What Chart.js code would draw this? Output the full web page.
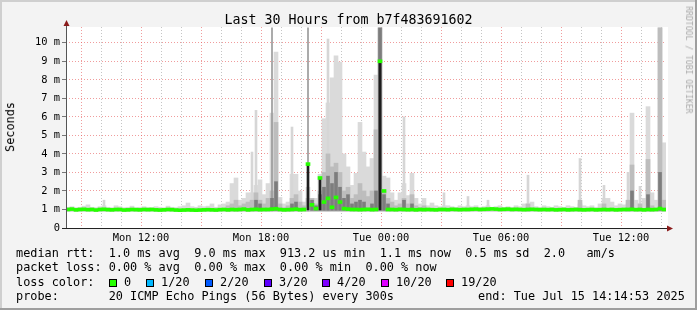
<!DOCTYPE html>
<html>
<head>
<meta charset="utf-8">
<script src="https://cdn.jsdelivr.net/npm/chart.js@4"></script>
<style>
  html, body { margin: 0; padding: 0; background: #f3f3f3; }
  #wrap { position: relative; width: 697px; height: 310px; overflow: hidden; }
  #c { position: absolute; left: 0; top: 0; }
  .t { position: absolute; font-family: "DejaVu Sans Mono", monospace; white-space: pre; line-height: 1; color: #000; }
  .box { position: absolute; width: 8px; height: 8px; box-sizing: border-box; border: 1px solid #000; }
</style>
</head>
<body>
<div id="wrap">
  <canvas id="c" width="697" height="310"></canvas>
  <div class="t" style="left:0;width:697px;text-align:center;top:13px;font-size:13.3px">Last 30 Hours from b7f483691602</div>
  <div class="t" style="left:11px;top:127px;font-size:11.85px;transform:translate(-50%,-50%) rotate(-90deg)">Seconds</div>
  <div class="t" style="left:689px;top:60px;font-size:8.1px;color:#a9a9a9;transform:translate(-50%,-50%) rotate(90deg)">RRDTOOL / TOBI OETIKER</div>
  <div id="legend"></div>
</div>
<script>
// 30 hours, Mon 08:15 -> Tue 14:15, one bin every 12 minutes
const BIN = 0.2;
const SMOKE_FLOOR = 0.88;

const xLabelPos = [3.75, 9.75, 15.75, 21.75, 27.75];
const xLabels = ["Mon 12:00", "Mon 18:00", "Tue 00:00", "Tue 06:00", "Tue 12:00"];

// upper edge of the light smoke (ms)
const smokeLight = [
  1.12,1.15,1.1,1.12,1.18,1.25,1.12,1.1,1.15,1.2,
  1.12,1.1,1.2,1.15,1.1,1.12,1.18,1.1,1.12,1.15,
  1.12,1.1,1.15,1.12,1.1,1.18,1.12,1.1,1.15,1.2,
  1.35,1.15,1.12,1.2,1.15,1.18,1.3,1.12,1.25,1.3,
  1.4,2.4,2.7,1.5,1.6,1.9,1.9,2.3,2.6,1.8,
  2.4,6.2,9.5,1.65,1.3,1.4,2.9,2.9,2.0,1.4,
  2.2,1.6,1.6,2.9,5.9,6.75,8.1,9.3,8.95,4.0,
  3.3,2.3,2.95,5.7,4.1,3.3,3.75,8.25,10.8,2.8,
  2.7,1.9,1.5,1.9,2.4,1.75,2.95,1.6,1.3,1.6,
  1.2,1.35,1.2,1.15,1.2,1.2,1.15,1.12,1.2,1.15,
  1.2,1.15,1.2,1.12,1.15,1.2,1.12,1.15,1.2,1.12,
  1.15,1.12,1.2,1.15,1.3,1.3,1.4,1.15,1.12,1.2,
  1.15,1.12,1.2,1.15,1.12,1.2,1.15,1.12,1.3,1.2,
  1.15,1.2,1.12,1.3,1.6,1.6,1.4,1.2,1.3,1.25,
  1.3,6.2,1.5,1.3,1.6,6.55,1.9,1.5,10.8,4.6
];

// medium grey smoke
const smokeMid = [
  null,null,null,null,null,null,null,null,null,null,
  null,null,null,null,null,null,null,null,null,null,
  null,null,null,null,null,null,null,null,null,null,
  null,null,null,null,null,null,null,null,null,null,
  1.2,1.3,1.5,1.2,1.3,1.4,1.5,1.9,1.5,1.3,
  1.6,2.0,5.7,1.3,1.1,1.2,1.6,1.8,1.4,1.2,
  1.6,1.6,1.3,2.0,3.0,4.0,3.3,3.5,3.0,2.0,
  2.2,1.6,1.8,2.4,2.0,1.7,2.0,5.3,10.8,2.0,
  1.6,1.4,1.2,1.3,1.6,1.3,1.8,1.2,1.1,1.2,
  null,null,null,null,null,null,null,null,null,null,
  null,null,null,null,null,null,null,null,null,null,
  null,null,null,null,null,1.3,null,null,null,null,
  null,null,null,null,null,null,null,null,1.5,null,
  null,null,null,null,1.3,null,null,null,null,null,
  1.5,3.4,null,1.3,null,3.7,1.2,null,10.8,1.5
];

// dark grey smoke (bin index / top)
const darkIdx = [47,48,51,52,56,57,61,62,63,64,65,66,67,68,69,70,71,72,73,74,76,77,78,79,80,84,86,141,145,148];
const darkTop = [1.5,1.3,1.6,2.5,1.3,1.4,1.5,1.2,1.8,2.2,2.8,2.4,3.0,2.2,1.6,1.8,1.3,1.4,1.5,1.4,1.3,2.0,10.8,1.8,1.3,1.5,1.3,2.0,1.8,3.0];

// black core under high medians
const coreIdx = [60,63,78];
const coreTop = [3.45,2.7,9.0];

// single-ping outliers (thin)
const peakIdx = [9,46,47,56,65,84,94,100,105,115,128,134,140,143];
const peakTop = [1.5,4.1,6.35,5.45,10.2,6.0,1.9,1.7,1.5,2.85,3.75,2.3,3.0,2.25];
const peakDarkIdx = [51,60];
const peakDarkTop = [10.8,10.8];

// median rtt, 0 loss
const median = [
  1.0,1.02,0.98,1.0,1.01,0.99,1.0,0.97,1.0,1.01,
  0.99,0.98,1.0,1.0,0.97,0.98,1.0,0.99,0.98,1.0,
  0.99,1.0,0.98,0.97,0.98,1.0,0.99,0.97,0.96,0.97,
  0.98,0.97,0.96,0.97,0.98,0.99,0.98,0.97,0.99,1.0,
  0.98,1.0,0.99,1.0,1.02,0.98,1.0,1.01,0.99,1.0,
  1.0,1.02,1.04,1.0,0.98,0.99,1.0,1.02,0.99,1.0,
  3.45,1.25,1.05,2.7,1.4,1.6,1.12,1.65,1.4,1.05,
  1.02,1.0,1.0,0.99,1.0,1.01,0.99,1.0,9.0,2.0,
  1.0,1.0,0.99,1.01,1.0,0.99,1.0,0.98,1.0,0.99,
  1.0,0.99,0.98,1.0,1.0,0.99,1.01,1.0,0.99,1.0,
  1.0,1.01,1.02,1.0,1.01,1.02,1.03,1.02,1.0,1.01,
  1.02,1.0,1.01,1.0,0.99,1.0,1.01,1.0,0.99,1.0,
  0.99,1.0,0.98,0.99,1.0,0.98,0.99,1.0,0.99,0.98,
  0.99,1.0,0.98,0.99,1.0,0.99,1.0,0.98,0.99,1.0,
  1.0,1.01,0.99,1.0,0.98,1.0,0.99,1.0,1.05,1.0
];

const lossLabels = ["0", "1/20", "2/20", "3/20", "4/20", "10/20", "19/20"];
const lossColors = ["#26ff00", "#00b8ff", "#0059ff", "#5e00ff", "#7e00ff", "#dd00ff", "#ff0000"];

/* ================= legend ================= */

const legend = document.getElementById("legend");
function addText(txt, x, y, size){
  const d = document.createElement("div");
  d.className = "t";
  d.style.left = x + "px";
  d.style.top = y + "px";
  d.style.fontSize = (size || 11.85) + "px";
  d.textContent = txt;
  legend.appendChild(d);
}
addText("median rtt:  1.0 ms avg  9.0 ms max  913.2 us min  1.1 ms now  0.5 ms sd  2.0   am/s", 16, 248);
addText("packet loss: 0.00 % avg  0.00 % max  0.00 % min  0.00 % now", 16, 262);
addText("loss color:", 16, 276.5);
addText("probe:       20 ICMP Echo Pings (56 Bytes) every 300s", 16, 291);
addText("end: Tue Jul 15 14:14:53 2025", 478, 291);

const boxX = [109, 146, 205, 264, 322, 381, 446];
lossLabels.forEach((l, i)=>{
  const b = document.createElement("div");
  b.className = "box";
  b.style.left = boxX[i] + "px";
  b.style.top = "279px";
  b.style.background = lossColors[i];
  legend.appendChild(b);
  addText(l, boxX[i] + 15, 276.5);
});

/* ================= chart ================= */

const binTime = i => i * BIN + BIN / 2;

function bars(values, lo){
  const out = [];
  values.forEach((v, i)=>{ if(v != null) out.push({x: binTime(i), y: [lo, v]}); });
  return out;
}
function sparse(idx, values, lo){
  return idx.map((b, k)=>({x: binTime(b), y: [lo, values[k]]}));
}

const hourTicks = [];
for(let h = 0.75; h < 30; h += 1) hourTicks.push(h);

const RED_GRID = "rgba(230,90,90,0.6)";
const GREY_GRID = "rgba(150,150,150,0.55)";
const NONE = "rgba(0,0,0,0)";

const frame = {
  id: "frame",
  beforeDraw(chart){
    const c = chart.ctx, a = chart.chartArea;
    c.save();
    c.fillStyle = "#f3f3f3";
    c.fillRect(0, 0, 697, 310);
    c.fillStyle = "#cfcfcf";
    c.fillRect(0, 0, 697, 2);
    c.fillRect(0, 0, 2, 310);
    c.fillStyle = "#9e9e9e";
    c.fillRect(0, 308, 697, 2);
    c.fillRect(695, 0, 2, 310);
    c.fillStyle = "#ffffff";
    c.fillRect(a.left, a.top, a.right - a.left + 2, a.bottom - a.top);
    c.restore();
  },
  afterDraw(chart){
    const c = chart.ctx, a = chart.chartArea;
    c.save();
    c.lineWidth = 1;
    c.strokeStyle = "#555";
    c.beginPath();
    c.moveTo(a.left + 0.5, a.bottom);
    c.lineTo(a.left + 0.5, a.top - 1);
    c.stroke();
    c.strokeStyle = "#222";
    c.beginPath();
    c.moveTo(a.left - 4, a.bottom + 0.5);
    c.lineTo(a.right + 2, a.bottom + 0.5);
    c.stroke();
    c.fillStyle = "#8b1c1c";
    c.beginPath();
    c.moveTo(a.left + 0.5, a.top - 7);
    c.lineTo(a.left - 2.5, a.top - 1);
    c.lineTo(a.left + 3.5, a.top - 1);
    c.closePath();
    c.fill();
    c.beginPath();
    c.moveTo(a.right + 7, a.bottom + 0.5);
    c.lineTo(a.right + 1, a.bottom - 2.5);
    c.lineTo(a.right + 1, a.bottom + 3.5);
    c.closePath();
    c.fill();
    c.restore();
  }
};

const axisFont = {family: "DejaVu Sans Mono", size: 10.4};

new Chart(document.getElementById("c"), {
  type: "bar",
  data: {
    datasets: [
      {data: bars(smokeLight, SMOKE_FLOOR), backgroundColor: "#dadada", barThickness: 4, order: 8},
      {data: sparse(peakIdx, peakTop, SMOKE_FLOOR), backgroundColor: "#d6d6d6", barThickness: 2, order: 7},
      {data: bars(smokeMid, 0.92), backgroundColor: "#bdbdbd", barThickness: 4, order: 6},
      {data: sparse(peakDarkIdx, peakDarkTop, 0.92), backgroundColor: "#9a9a9a", barThickness: 1, order: 5},
      {data: sparse(darkIdx, darkTop, 0.95), backgroundColor: "#7d7d7d", barThickness: 3, order: 4},
      {data: sparse(coreIdx, coreTop, 0.98), backgroundColor: "#1e1e1e", barThickness: 2, order: 3},
      {data: median.map((m, i)=>({x: binTime(i), y: [m - 0.08, m + 0.08]})), backgroundColor: lossColors[0], barThickness: 4, order: 2}
    ]
  },
  options: {
    responsive: false,
    animation: false,
    events: [],
    grouped: false,
    layout: {padding: {left: 0, right: 31, top: 27, bottom: 0}},
    plugins: {legend: {display: false}, tooltip: {enabled: false}},
    scales: {
      x: {
        type: "linear",
        min: 0,
        max: 30,
        offset: false,
        afterFit(s){ s.height = 82; },
        afterBuildTicks(s){ s.ticks = hourTicks.map(v=>({value: v})); },
        border: {display: false, dash: [1, 2]},
        grid: {
          offset: false,
          drawTicks: false,
          color: ctx => !ctx.tick ? NONE : (((ctx.tick.value - 0.75) % 3 === 0) ? RED_GRID : GREY_GRID)
        },
        ticks: {
          autoSkip: false,
          maxRotation: 0,
          padding: 4,
          color: "#000",
          font: axisFont,
          callback: v => { const k = xLabelPos.indexOf(v); return k < 0 ? "" : xLabels[k]; }
        }
      },
      y: {
        min: 0,
        max: 10.85,
        afterFit(s){ s.width = 66; },
        border: {display: false, dash: [1, 2]},
        grid: {
          tickLength: 4,
          tickBorderDash: [],
          tickColor: ctx => (ctx.tick && ctx.tick.value % 1 === 0) ? "#777" : NONE,
          color: ctx => !ctx.tick ? NONE : ((ctx.tick.value % 1 === 0) ? RED_GRID : GREY_GRID)
        },
        ticks: {
          stepSize: 0.5,
          includeBounds: false,
          padding: 2,
          color: "#000",
          font: axisFont,
          callback: v => v === 0 ? "0" : (v % 1 === 0 ? v + " m" : "")
        }
      }
    }
  },
  plugins: [frame]
});
</script>
</body>
</html>
